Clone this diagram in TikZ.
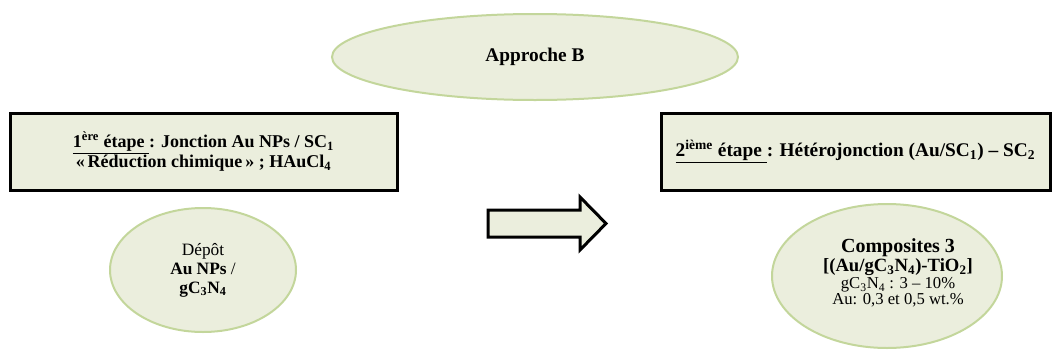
\documentclass[tikz,border=0pt]{standalone}
\usepackage{fontspec}
\setmainfont{Liberation Serif}
\usetikzlibrary{shapes.geometric}
\definecolor{pale}{HTML}{EBEEDD}
\definecolor{olive}{HTML}{C3D69B}
\tikzset{
  oval/.style={ellipse, draw=olive, line width=1.5pt, fill=pale, inner sep=0pt, align=center},
  stepbox/.style={rectangle, draw=black, line width=2.25pt, fill=pale, inner sep=0pt, align=center},
  bigarrow/.style={draw=black, line width=2.25pt, fill=pale, line join=miter},
}
\begin{document}
\begin{tikzpicture}[x=0.75pt,y=-0.75pt]
\useasboundingbox (0,0) rectangle (1054,354);
\node[oval, minimum width=304.5pt, minimum height=64.5pt, font=\fontsize{14.5}{16}\selectfont\bfseries] (appr) at (535,57)
  {Approche B};
\node[stepbox, minimum width=290.25pt, minimum height=57.75pt, font=\fontsize{13.5}{15}\selectfont\bfseries] (e1) at (203.5,151.5)
  {\underline{1\textsuperscript{ère} étape }: Jonction Au NPs / SC\textsubscript{1}\\
   «\,Réduction chimique\,» ; HAuCl\textsubscript{4}};
\node[stepbox, minimum width=291.75pt, minimum height=57.75pt, font=\fontsize{14.5}{16}\selectfont\bfseries] (e2) at (855.5,151.5)
  {\underline{2\textsuperscript{ième} étape }: Hétérojonction (Au/SC\textsubscript{1}) -- SC\textsubscript{2}};
\node[oval, minimum width=139.5pt, minimum height=93pt, font=\fontsize{13}{14.25}\selectfont] (d1) at (203,270)
  {Dépôt\\ \textbf{Au NPs} /\\ \textbf{gC\textsubscript{3}N\textsubscript{4}}};
\node[oval, minimum width=172.5pt, minimum height=108pt] (d2) at (887,276) {};
\node[align=center, inner sep=0pt, font=\fontsize{12.5}{12}\selectfont] (t2) at (898,273)
  {\fontsize{15}{14.5}\selectfont\bfseries Composites 3\\
   \fontsize{14}{13}\selectfont\bfseries [(Au/gC\textsubscript{3}N\textsubscript{4})-TiO\textsubscript{2}]\\[1pt]
   gC\textsubscript{3}N\textsubscript{4} : 3 -- 10\%\\
   Au: 0,3 et 0,5 wt.\%};
\draw[bigarrow] (488,210) -- (580,210) -- (580,197) -- (606,223.5) -- (580,250) -- (580,237) -- (488,237) -- cycle;
\end{tikzpicture}
\end{document}
